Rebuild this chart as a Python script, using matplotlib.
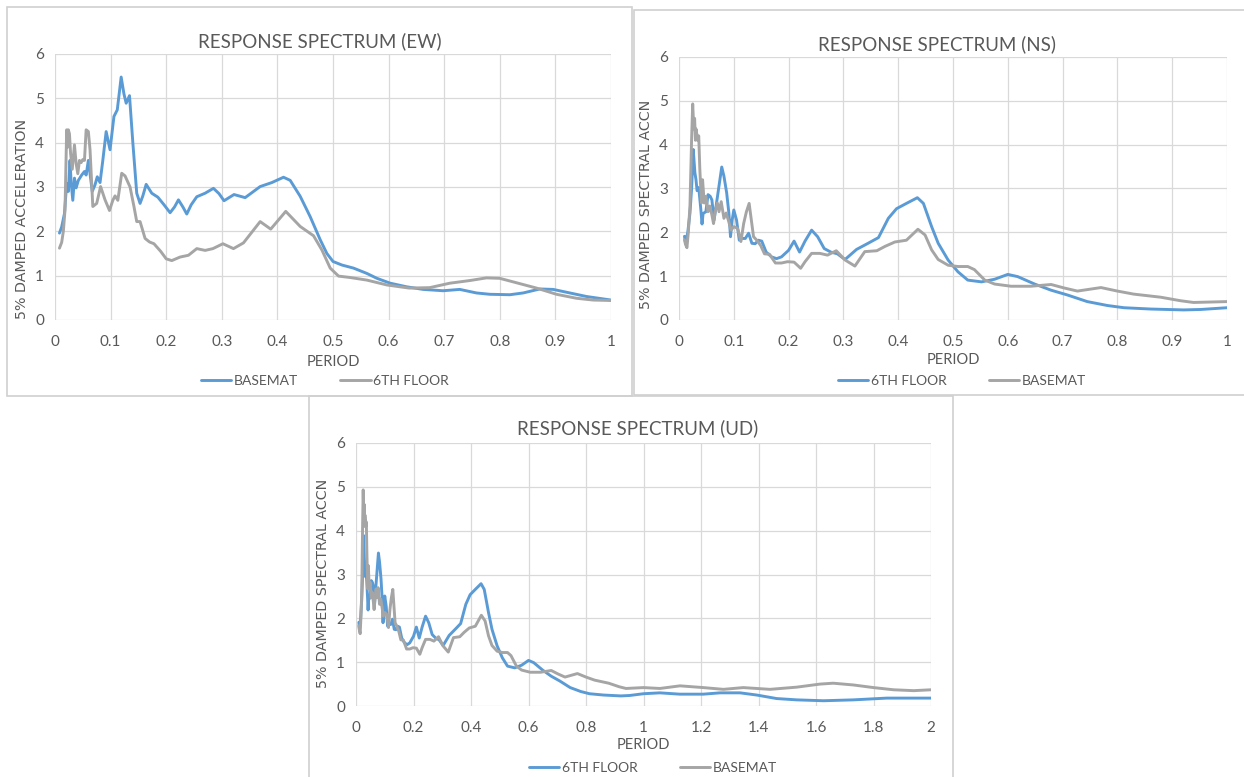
import matplotlib
matplotlib.use("Agg")
import matplotlib.pyplot as plt
from matplotlib.patches import Rectangle

# ---------------- data ----------------
EW_BASEMAT_T = [
    0.008, 0.012, 0.017, 0.021, 0.024, 0.027, 0.029, 0.032, 0.035, 0.038,
    0.042, 0.048, 0.053, 0.056, 0.060, 0.063, 0.067, 0.072, 0.076, 0.081,
    0.086, 0.092, 0.099, 0.106, 0.112, 0.119, 0.124, 0.128, 0.134, 0.140,
    0.147, 0.153, 0.158, 0.164, 0.174, 0.185, 0.196, 0.207, 0.215, 0.222,
    0.230, 0.237, 0.245, 0.255, 0.270, 0.285, 0.295, 0.304, 0.322, 0.342,
    0.369, 0.390, 0.411, 0.423, 0.441, 0.459, 0.477, 0.489, 0.500, 0.516,
    0.537, 0.561, 0.579, 0.603, 0.632, 0.662, 0.698, 0.728, 0.758, 0.782,
    0.818, 0.842, 0.872, 0.896, 0.926, 0.956, 1.000]
EW_BASEMAT_SA = [
    1.96, 2.10, 2.40, 3.08, 2.90, 3.60, 3.10, 2.70, 3.20, 2.98,
    3.15, 3.27, 3.35, 3.27, 3.60, 3.30, 2.90, 3.05, 3.23, 3.10,
    3.60, 4.25, 3.84, 4.59, 4.74, 5.48, 5.10, 4.89, 5.06, 4.00,
    2.86, 2.63, 2.80, 3.06, 2.86, 2.77, 2.60, 2.42, 2.55, 2.71,
    2.55, 2.39, 2.60, 2.78, 2.86, 2.97, 2.85, 2.69, 2.83, 2.76,
    3.01, 3.10, 3.22, 3.15, 2.79, 2.33, 1.81, 1.50, 1.32, 1.24,
    1.17, 1.05, 0.94, 0.83, 0.75, 0.69, 0.66, 0.69, 0.61, 0.58,
    0.57, 0.61, 0.70, 0.69, 0.61, 0.53, 0.45]

EW_6TH_T = [
    0.008, 0.012, 0.015, 0.018, 0.021, 0.023, 0.024, 0.026, 0.028, 0.031,
    0.035, 0.038, 0.041, 0.044, 0.047, 0.050, 0.053, 0.056, 0.060, 0.063,
    0.068, 0.075, 0.082, 0.090, 0.098, 0.104, 0.108, 0.113, 0.120, 0.126,
    0.135, 0.142, 0.147, 0.153, 0.162, 0.170, 0.178, 0.190, 0.200, 0.210,
    0.225, 0.240, 0.255, 0.270, 0.284, 0.302, 0.321, 0.339, 0.369, 0.388,
    0.415, 0.441, 0.465, 0.480, 0.495, 0.510, 0.530, 0.561, 0.597, 0.637,
    0.674, 0.710, 0.746, 0.776, 0.800, 0.830, 0.866, 0.902, 0.938, 0.968,
    1.000]
EW_6TH_SA = [
    1.62, 1.75, 2.00, 2.48, 4.29, 3.90, 4.29, 4.20, 3.76, 3.40,
    3.95, 3.53, 3.30, 3.60, 3.55, 3.62, 3.60, 4.29, 4.25, 3.84,
    2.56, 2.63, 3.01, 2.71, 2.47, 2.70, 2.80, 2.70, 3.31, 3.25,
    3.00, 2.56, 2.22, 2.22, 1.84, 1.76, 1.72, 1.55, 1.38, 1.34,
    1.42, 1.46, 1.61, 1.57, 1.61, 1.72, 1.61, 1.74, 2.22, 2.05,
    2.45, 2.11, 1.90, 1.58, 1.17, 0.99, 0.96, 0.90, 0.79, 0.72,
    0.73, 0.83, 0.89, 0.95, 0.94, 0.84, 0.72, 0.58, 0.49, 0.45,
    0.44]

NS_6TH_T = [
    0.010, 0.012, 0.016, 0.020, 0.023, 0.026, 0.029, 0.031, 0.033, 0.036,
    0.040, 0.042, 0.044, 0.049, 0.053, 0.057, 0.060, 0.064, 0.070, 0.078,
    0.082, 0.087, 0.091, 0.094, 0.097, 0.100, 0.105, 0.110, 0.115, 0.121,
    0.127, 0.133, 0.139, 0.145, 0.151, 0.159, 0.169, 0.178, 0.187, 0.200,
    0.210, 0.220, 0.230, 0.242, 0.253, 0.265, 0.277, 0.289, 0.303, 0.324,
    0.345, 0.364, 0.382, 0.397, 0.415, 0.435, 0.446, 0.461, 0.473, 0.491,
    0.509, 0.527, 0.552, 0.576, 0.600, 0.618, 0.649, 0.679, 0.709, 0.745,
    0.782, 0.812, 0.861, 0.921, 0.952, 1.000]
NS_6TH_SA = [
    1.91, 1.75, 2.00, 2.44, 3.00, 3.89, 3.36, 3.20, 2.95, 3.02,
    2.50, 2.19, 2.43, 2.47, 2.86, 2.82, 2.74, 2.28, 2.80, 3.49,
    3.28, 2.90, 2.44, 1.90, 2.28, 2.51, 2.28, 1.82, 1.86, 1.86,
    1.98, 1.75, 1.74, 1.82, 1.80, 1.55, 1.44, 1.40, 1.44, 1.59,
    1.80, 1.55, 1.80, 2.05, 1.90, 1.63, 1.55, 1.51, 1.38, 1.61,
    1.75, 1.88, 2.32, 2.54, 2.66, 2.79, 2.66, 2.13, 1.75, 1.37,
    1.10, 0.91, 0.87, 0.93, 1.04, 0.99, 0.82, 0.68, 0.57, 0.42,
    0.33, 0.28, 0.25, 0.23, 0.24, 0.28]

NS_BASEMAT_T = [
    0.010, 0.012, 0.0145, 0.017, 0.020, 0.023, 0.025, 0.027, 0.0285, 0.030,
    0.031, 0.033, 0.034, 0.036, 0.038, 0.041, 0.043, 0.046, 0.049, 0.053,
    0.056, 0.060, 0.063, 0.066, 0.070, 0.073, 0.077, 0.082, 0.086, 0.090,
    0.095, 0.100, 0.107, 0.113, 0.118, 0.123, 0.128, 0.132, 0.136, 0.142,
    0.149, 0.156, 0.165, 0.176, 0.187, 0.198, 0.210, 0.222, 0.230, 0.242,
    0.257, 0.271, 0.287, 0.303, 0.321, 0.339, 0.361, 0.376, 0.394, 0.415,
    0.436, 0.449, 0.461, 0.473, 0.491, 0.509, 0.527, 0.539, 0.558, 0.576,
    0.606, 0.642, 0.679, 0.703, 0.727, 0.770, 0.800, 0.830, 0.879, 0.915,
    0.939, 1.000]
NS_BASEMAT_SA = [
    1.83, 1.72, 1.65, 2.00, 2.60, 4.12, 4.93, 4.36, 4.60, 4.10,
    4.36, 4.20, 4.10, 4.20, 3.44, 2.67, 3.20, 2.67, 2.82, 2.47,
    2.60, 2.40, 2.20, 2.47, 2.67, 2.47, 2.70, 2.32, 2.44, 2.28,
    2.05, 2.13, 2.09, 1.79, 2.20, 2.47, 2.66, 2.28, 1.90, 1.82,
    1.70, 1.51, 1.50, 1.30, 1.30, 1.33, 1.32, 1.18, 1.33, 1.52,
    1.52, 1.48, 1.58, 1.37, 1.23, 1.56, 1.58, 1.68, 1.78, 1.82,
    2.07, 1.94, 1.60, 1.38, 1.25, 1.22, 1.22, 1.15, 0.91, 0.82,
    0.77, 0.77, 0.81, 0.73, 0.66, 0.74, 0.66, 0.59, 0.52, 0.44,
    0.40, 0.42]

# UD: identical to NS up to T = 1 s, then continues to 2 s
UD_6TH_T_EXT = [1.057, 1.126, 1.208, 1.266, 1.336, 1.394, 1.463, 1.533,
                1.626, 1.730, 1.846, 1.904, 2.000]
UD_6TH_SA_EXT = [0.30, 0.27, 0.27, 0.30, 0.30, 0.25, 0.17, 0.14,
                 0.12, 0.14, 0.18, 0.18, 0.18]
UD_BASEMAT_T_EXT = [1.057, 1.127, 1.208, 1.278, 1.347, 1.440, 1.533, 1.614,
                    1.660, 1.730, 1.800, 1.870, 1.940, 2.000]
UD_BASEMAT_SA_EXT = [0.40, 0.46, 0.42, 0.38, 0.42, 0.38, 0.43, 0.50,
                     0.52, 0.48, 0.42, 0.37, 0.35, 0.37]

UD_6TH_T = NS_6TH_T + UD_6TH_T_EXT
UD_6TH_SA = NS_6TH_SA + UD_6TH_SA_EXT
UD_BASEMAT_T = NS_BASEMAT_T + UD_BASEMAT_T_EXT
UD_BASEMAT_SA = NS_BASEMAT_SA + UD_BASEMAT_SA_EXT

Y_TICKS = [0, 1, 2, 3, 4, 5, 6]
X_TICKS_1 = [0, 0.1, 0.2, 0.3, 0.4, 0.5, 0.6, 0.7, 0.8, 0.9, 1]
X_TICKS_2 = [0, 0.2, 0.4, 0.6, 0.8, 1, 1.2, 1.4, 1.6, 1.8, 2]

# ---------------- style ----------------
W, H = 1244, 777
BLUE = "#5B9BD5"
GRAY = "#A5A5A5"
TXT = "#595959"
GRID = "#D9D9D9"
NARROW = ["Lato", "DejaVu Sans"]
WIDE = ["DejaVu Sans"]

fig = plt.figure(figsize=(W / 100, H / 100), dpi=100)
fig.patch.set_facecolor("white")


def fx(px):
    return px / W


def fy(py):
    return 1 - py / H


# panel borders
for (x0, y0, x1, y1) in [(7, 7, 632, 396), (634, 10, 1250, 395), (309, 396, 953, 790)]:
    fig.patches.append(Rectangle((fx(x0), fy(y1)), fx(x1 - x0), (y1 - y0) / H,
                                 transform=fig.transFigure, fill=False,
                                 edgecolor="#D0D0D0", linewidth=1.2, zorder=0))


def fmt(v):
    s = ("%.1f" % v)
    return s[:-2] if s.endswith(".0") else s


def panel(box, title, ylabel, ylabel_y, xticks, xmax, series, title_xy, period_y, legend_xy):
    l, t, r, b = box
    ax = fig.add_axes([fx(l), fy(b), fx(r - l), (b - t) / H])
    for (xs, ys, c, lab) in series:
        ax.plot(xs, ys, color=c, lw=2.1, label=lab, solid_joinstyle="round",
                solid_capstyle="round")
    ax.set_xlim(0, xmax)
    ax.set_ylim(0, 6)
    ax.set_xticks(xticks)
    ax.set_xticklabels([fmt(v) for v in xticks])
    ax.set_yticks(Y_TICKS)
    ax.grid(True, color=GRID, lw=0.9)
    ax.set_axisbelow(True)
    for s in ax.spines.values():
        s.set_visible(False)
    ax.tick_params(axis="y", length=0, colors=TXT, labelsize=11, pad=8)
    ax.tick_params(axis="x", length=0, colors=TXT, labelsize=11, pad=11)
    for lb in ax.get_xticklabels() + ax.get_yticklabels():
        lb.set_family(NARROW)
    fig.text(fx(l - 33), fy(ylabel_y), ylabel, rotation=90, ha="center", va="center",
             family=WIDE, fontsize=10.3, color=TXT)
    fig.text(fx(title_xy[0]), fy(title_xy[1]), title, ha="center", va="center",
             family=NARROW, fontsize=13.5, color=TXT)
    fig.text(fx((l + r) / 2), fy(period_y), "PERIOD", ha="center", va="center",
             family=NARROW, fontsize=10.5, color=TXT)
    leg = ax.legend(loc="center", bbox_to_anchor=(fx(legend_xy[0]), fy(legend_xy[1])),
                    bbox_transform=fig.transFigure, ncol=2, frameon=False,
                    handlelength=2.2, handletextpad=0.2, columnspacing=3.0,
                    prop={"family": NARROW, "size": 10})
    for tx in leg.get_texts():
        tx.set_color(TXT)
    return ax


panel((55, 54, 611, 320), "RESPONSE SPECTRUM (EW)", "5% DAMPED ACCELERATION", 219,
      X_TICKS_1, 1,
      [(EW_BASEMAT_T, EW_BASEMAT_SA, BLUE, "BASEMAT"),
       (EW_6TH_T, EW_6TH_SA, GRAY, "6TH FLOOR")],
      (320, 41), 362, (325, 381))

panel((679, 57, 1227, 320), "RESPONSE SPECTRUM (NS)", "5% DAMPED SPECTRAL ACCN", 204,
      X_TICKS_1, 1,
      [(NS_6TH_T, NS_6TH_SA, BLUE, "6TH FLOOR"),
       (NS_BASEMAT_T, NS_BASEMAT_SA, GRAY, "BASEMAT")],
      (937, 44), 360, (962, 381))

panel((356, 443, 931, 706), "RESPONSE SPECTRUM (UD)", "5% DAMPED SPECTRAL ACCN", 583,
      X_TICKS_2, 2,
      [(UD_6TH_T, UD_6TH_SA, BLUE, "6TH FLOOR"),
       (UD_BASEMAT_T, UD_BASEMAT_SA, GRAY, "BASEMAT")],
      (638, 428), 745, (653, 768))

fig.savefig("out.png", dpi=100, facecolor="white")
